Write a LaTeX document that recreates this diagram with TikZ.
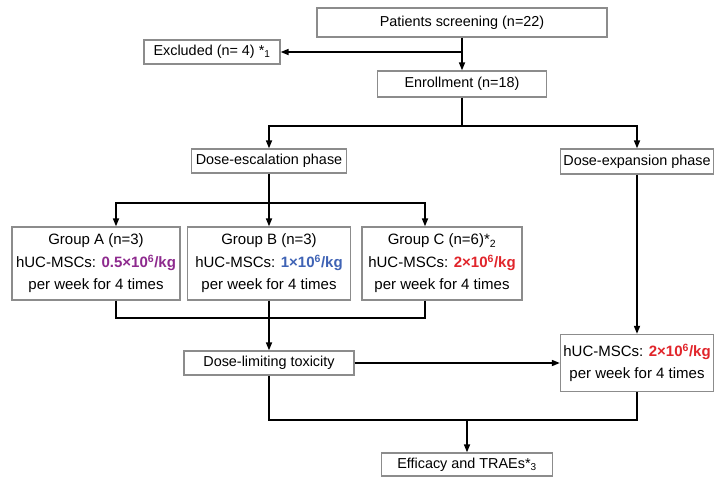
\documentclass[tikz,border=0pt]{standalone}
\usepackage{fontspec}
\setmainfont{Liberation Sans}
\usetikzlibrary{calc}
\usetikzlibrary{arrows, arrows.meta}

\definecolor{boxgray}{HTML}{8C8C8C}
\definecolor{doseA}{HTML}{8E2A8E}
\definecolor{doseB}{HTML}{3F63B5}
\definecolor{doseC}{HTML}{E1252B}

\begin{document}
\begin{tikzpicture}[x=1pt, y=-1pt]

\useasboundingbox (0, 0) rectangle (714, 477) ;

\tikzstyle{flow box} = [draw=boxgray, line width=1.3pt, fill=white, inner sep=0pt, align=center, font=\fontsize{14.4}{22.5}\selectfont]
\tikzstyle{group box} = [flow box, minimum height=73pt, font=\fontsize{15}{22.5}\selectfont]
\tikzstyle{flow line} = [line width=1.6pt, color=black]
\tikzstyle{flow arrow} = [flow line, -{Triangle[length=8pt, width=6pt]}]

% screening

\node [flow box, minimum width=290pt, minimum height=29pt] (screening) at (462, 22.5) {Patients screening (n=22)} ;
\node [flow box, minimum width=136pt, minimum height=24pt] (excluded) at (212, 52) {Excluded (n= 4) *\textsubscript{1}} ;
\node [flow box, minimum width=169pt, minimum height=26pt] (enrollment) at (462, 84) {Enrollment (n=18)} ;

\coordinate (exclsplit) at (462, 52) ;
\draw [flow arrow] (screening.south) -- (enrollment.north) ;
\draw [flow arrow] (exclsplit) -- (excluded.east) ;

% phases

\node [flow box, minimum width=155pt, minimum height=24pt] (escalation) at (269, 161) {Dose-escalation phase} ;
\node [flow box, minimum width=153pt, minimum height=25pt] (expansion) at (637, 161.5) {Dose-expansion phase} ;

\coordinate (phasesplit) at (462, 126) ;
\draw [flow line] (enrollment.south) -- (phasesplit) ;
\draw [flow arrow] (phasesplit) -| (escalation.north) ;
\draw [flow arrow] (phasesplit) -| (expansion.north) ;

% groups

\node [group box, minimum width=168pt] (groupA) at (96, 263.5)
	{Group A (n=3)\\hUC-MSCs: {\bfseries\color{doseA}0.5×10\textsuperscript{6}/kg}\\per week for 4 times} ;
\node [group box, minimum width=163pt] (groupB) at (269, 263.5)
	{Group B (n=3)\\hUC-MSCs: {\bfseries\color{doseB}1×10\textsuperscript{6}/kg}\\per week for 4 times} ;
\node [group box, minimum width=160pt] (groupC) at (442, 263.5)
	{Group C (n=6)*\textsubscript{2}\\hUC-MSCs: {\bfseries\color{doseC}2×10\textsuperscript{6}/kg}\\per week for 4 times} ;

\coordinate (groupsplit) at (269, 203) ;
\draw [flow line] (escalation.south) -- (groupsplit) ;
\draw [flow arrow] (groupsplit) -| ([xshift=20pt]groupA.north) ;
\draw [flow arrow] (groupsplit) -- (groupB.north) ;
\draw [flow arrow] (groupsplit) -| ([xshift=-17pt]groupC.north) ;

\coordinate (groupmerge) at (269, 318) ;
\draw [flow line] ([xshift=20pt]groupA.south) |- (groupmerge) ;
\draw [flow line] ([xshift=-17pt]groupC.south) |- (groupmerge) ;
\draw [flow line] (groupB.south) -- (groupmerge) ;

% toxicity and expansion dose

\node [flow box, minimum width=170pt, minimum height=24pt] (toxicity) at (269, 363) {Dose-limiting toxicity} ;
\node [group box, minimum width=153pt, minimum height=57pt] (dose) at (637, 363)
	{hUC-MSCs: {\bfseries\color{doseC}2×10\textsuperscript{6}/kg}\\per week for 4 times} ;

\draw [flow arrow] (groupmerge) -- (toxicity.north) ;
\draw [flow arrow] (toxicity.east) -- (dose.west) ;
\draw [flow arrow] (expansion.south) -- (dose.north) ;

% outcome

\node [flow box, minimum width=171pt, minimum height=23pt] (efficacy) at (467, 464.5) {Efficacy and TRAEs*\textsubscript{3}} ;

\coordinate (finalmerge) at (467, 420) ;
\draw [flow line] (toxicity.south) |- (finalmerge) ;
\draw [flow line] (dose.south) |- (finalmerge) ;
\draw [flow arrow] (finalmerge) -- (efficacy.north) ;

\end{tikzpicture}
\end{document}
